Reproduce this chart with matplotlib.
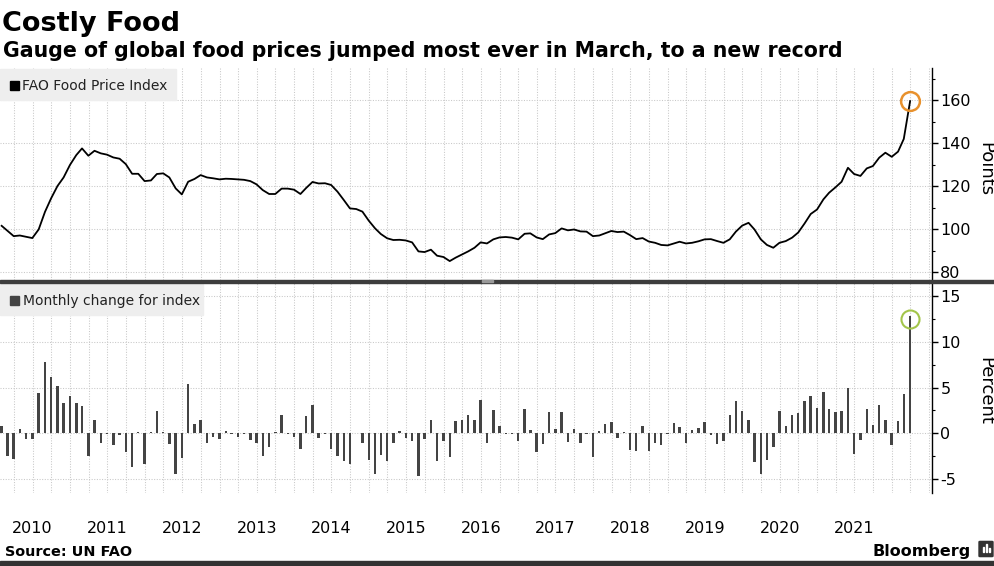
import pandas as pd
import matplotlib
matplotlib.use("Agg")
import matplotlib.pyplot as plt
import matplotlib.dates as mdates
from matplotlib.patches import Rectangle, FancyBboxPatch
from matplotlib.ticker import MultipleLocator

plt.rcParams['font.family'] = ['DejaVu Sans']
plt.rcParams['axes.unicode_minus'] = False

# FAO Food Price Index, monthly, Jan 2010 - Mar 2022 (points)
food_index = [
    101.5, 99.2, 96.7, 97.0, 96.4, 95.8, 99.8, 108.0, 114.3, 120.0, 124.0, 129.8,
    134.4, 137.5, 134.1, 136.4, 135.2, 134.6, 133.3, 132.7, 130.2, 125.7, 125.7, 122.3,
    122.6, 125.6, 125.9, 124.0, 118.9, 116.1, 122.0, 123.3, 125.1, 124.0, 123.6, 123.1,
    123.4, 123.3, 123.1, 122.9, 122.3, 120.8, 118.1, 116.3, 116.3, 118.8, 118.8, 118.3,
    116.3, 119.1, 121.9, 121.2, 121.3, 120.5, 117.4, 113.5, 109.6, 109.3, 108.1, 103.9,
    100.3, 97.7, 95.7, 94.9, 95.0, 94.7, 93.8, 89.6, 89.3, 90.4, 87.6, 87.0,
    85.1, 86.7, 88.2, 89.6, 91.3, 93.8, 93.3, 95.2, 96.1, 96.3, 96.0, 95.2,
    97.8, 98.0, 96.1, 95.3, 97.5, 98.1, 100.3, 99.4, 99.8, 98.9, 98.8, 96.7,
    97.0, 98.0, 99.1, 98.6, 98.8, 97.2, 95.3, 95.8, 94.2, 93.6, 92.6, 92.4,
    93.3, 94.1, 93.3, 93.6, 94.3, 95.2, 95.3, 94.4, 93.6, 95.2, 98.8, 101.6,
    102.9, 99.8, 95.2, 92.6, 91.3, 93.6, 94.4, 96.0, 98.4, 102.6, 107.0, 109.1,
    113.8, 116.9, 119.4, 122.0, 128.5, 125.6, 124.7, 128.2, 129.3, 133.2, 135.5, 133.6,
    136.0, 141.9, 159.5,
]

# monthly change for the index (percent)
monthly_change = [
    0.8, -2.5, -2.8, 0.5, -0.6, -0.6, 4.4, 7.8, 6.1, 5.2, 3.3, 4.1,
    3.3, 3.0, -2.5, 1.5, -1.0, -0.1, -1.3, -0.2, -2.0, -3.7, 0.2, -3.3,
    0.2, 2.4, 0.2, -1.2, -4.4, -2.7, 5.4, 1.0, 1.5, -1.0, -0.4, -0.6,
    0.3, -0.1, -0.4, -0.1, -0.7, -1.0, -2.5, -1.5, 0.1, 2.0, -0.1, -0.4,
    -1.7, 1.9, 3.1, -0.5, -0.1, -1.7, -2.5, -3.0, -3.3, 0.0, -1.1, -2.9,
    -4.4, -2.4, -3.0, -1.0, 0.3, -0.5, -0.8, -4.6, -0.6, 1.5, -3.0, -0.8,
    -2.6, 1.3, 1.5, 2.0, 1.5, 3.6, -1.0, 2.5, 0.8, -0.1, -0.1, -0.8,
    2.7, 0.4, -2.0, -1.2, 2.3, 0.5, 2.3, -0.9, 0.5, -1.0, -0.1, -2.6,
    0.3, 1.0, 1.2, -0.5, 0.1, -1.8, -1.9, 0.8, -1.9, -1.0, -1.3, -0.1,
    1.1, 0.7, -1.0, 0.4, 0.6, 1.2, -0.2, -1.2, -0.8, 2.0, 3.5, 2.4,
    1.5, -3.1, -4.4, -2.9, -1.5, 2.4, 0.8, 2.0, 2.2, 3.5, 4.1, 2.8,
    4.5, 2.7, 2.3, 2.4, 5.0, -2.3, -0.7, 2.7, 0.9, 3.1, 1.5, -1.3,
    1.3, 4.3, 12.8,
]

years = list(range(2010, 2022))
index_ticks = [80, 100, 120, 140, 160]
change_ticks = [-5, 0, 5, 10, 15]

dates = pd.date_range("2010-01-01", periods=len(food_index), freq="MS") + pd.offsets.MonthEnd(0)

W, H = 994, 566


def fx(px):
    return px / W


def fy(py):
    return 1 - py / H


fig = plt.figure(figsize=(W / 100, H / 100), dpi=100)
ax1 = fig.add_axes([0, fy(280), fx(932), (280 - 68) / H])
ax2 = fig.add_axes([0, fy(493), fx(932), (493 - 283) / H], sharex=ax1)

grid_kw = dict(color='#c8c8c8', linestyle=(0, (1, 1.5)), linewidth=0.75)
for ax in (ax1, ax2):
    for s in ('top', 'left', 'bottom'):
        ax.spines[s].set_visible(False)
    ax.spines['right'].set_color('black')
    ax.spines['right'].set_linewidth(1)
    ax.yaxis.tick_right()
    ax.tick_params(axis='y', which='major', length=4, width=1, pad=2,
                   labelsize=11.5, colors='black')
    ax.tick_params(axis='y', which='minor', length=2.5, width=0.8)
    ax.tick_params(axis='x', which='both', length=0)
    ax.xaxis.set_minor_locator(mdates.MonthLocator(bymonth=[1, 4, 7, 10]))
    ax.grid(which='both', axis='x', **grid_kw)
    ax.grid(which='major', axis='y', **grid_kw)
    ax.set_axisbelow(True)

# top panel: index line
ax1.plot(dates, food_index, color='black', lw=1.3, zorder=3)
ax1.plot(dates[-1], food_index[-1], 'o', ms=13.5, mfc='none', mec='#e8912d',
         mew=1.8, zorder=4)
ax1.set_ylim(76.3, 174.9)
ax1.set_yticks(index_ticks)
ax1.yaxis.set_minor_locator(MultipleLocator(10))
ax1.tick_params(axis='x', labelbottom=False)

# bottom panel: monthly change bars
ax2.bar(dates, monthly_change, width=12, color='#444444', zorder=3)
ax2.plot(dates[-1], monthly_change[-1] - 0.3, 'o', ms=13, mfc='none',
         mec='#a3c54a', mew=1.5, zorder=4)
ax2.set_ylim(-6.5, 16.4)
ax2.set_yticks(change_ticks)
ax2.yaxis.set_minor_locator(MultipleLocator(2.5))

ax2.set_xticks(pd.to_datetime([f"{y}-07-01" for y in years]),
               labels=[str(y) for y in years])
ax2.tick_params(axis='x', which='major', pad=20, labelsize=11.5)
ax2.set_xlim(pd.Timestamp("2010-01-23"), pd.Timestamp("2022-07-16"))

# titles
fig.text(fx(2), fy(31), "Costly Food", fontsize=19.5, fontweight='bold', va='baseline')
fig.text(fx(3), fy(57), "Gauge of global food prices jumped most ever in March, to a new record",
         fontsize=14.8, fontweight='bold', va='baseline')

# legend boxes
fig.add_artist(Rectangle((0, fy(100)), fx(176), 31 / H, transform=fig.transFigure,
                         color='#eeeeee', zorder=2))
fig.add_artist(Rectangle((fx(10), fy(90)), fx(9), 9 / H, transform=fig.transFigure,
                         color='black', zorder=3))
fig.text(fx(22), fy(90.5), "FAO Food Price Index", fontsize=10, va='baseline',
         color='#222222', zorder=3)

fig.add_artist(Rectangle((0, fy(315)), fx(203), 31 / H, transform=fig.transFigure,
                         color='#eeeeee', zorder=2))
fig.add_artist(Rectangle((fx(10), fy(305)), fx(9), 9 / H, transform=fig.transFigure,
                         color='#444444', zorder=3))
fig.text(fx(23), fy(305.5), "Monthly change for index", fontsize=10, va='baseline',
         color='#222222', zorder=3)

# axis titles on the right
fig.text(fx(985), fy(169), "Points", rotation=-90, ha='center', va='center', fontsize=13)
fig.text(fx(985), fy(391), "Percent", rotation=-90, ha='center', va='center', fontsize=13)

# separator between panels and footer bar
fig.add_artist(Rectangle((0, fy(282.5)), 1, 3 / H, transform=fig.transFigure,
                         color='#3d3d3d', zorder=5))
fig.add_artist(Rectangle((fx(482), fy(282)), fx(11), 2 / H, transform=fig.transFigure,
                         color='#9a9a9a', zorder=6))
fig.add_artist(Rectangle((0, 0), 1, 5 / H, transform=fig.transFigure,
                         color='#333333', zorder=5))

# footer
fig.text(fx(5), fy(555.5), "Source: UN FAO", fontsize=10.4, fontweight='bold', va='baseline')
fig.text(fx(872), fy(556), "Bloomberg", fontsize=11.5, fontweight='bold', va='baseline')
fig.add_artist(FancyBboxPatch((fx(980), fy(556)), fx(12), 14 / H,
                              boxstyle="round,pad=0.001", transform=fig.transFigure,
                              color='#333333', zorder=5))
for bx, bh in ((983, 5), (986, 8), (989, 4)):
    fig.add_artist(Rectangle((fx(bx), fy(552)), fx(1), bh / H, transform=fig.transFigure,
                             color='white', zorder=6))

fig.savefig("out.png", dpi=100)
